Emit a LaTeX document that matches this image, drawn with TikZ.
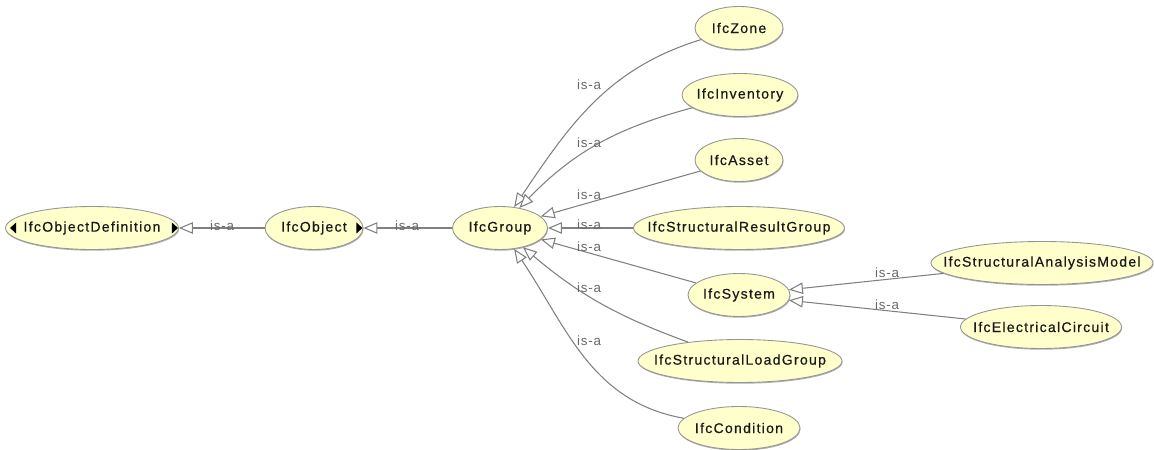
\documentclass[tikz,border=0pt]{standalone}
\usepackage{fontspec}
\usepackage{tikz}
\usetikzlibrary{arrows.meta,shapes.geometric,shadows}
\newfontfamily\entfont[LetterSpace=9,FakeBold=0.5]{Liberation Sans}
\newfontfamily\isafont[LetterSpace=6]{Liberation Sans}
\definecolor{entfill}{RGB}{255,255,204}
\definecolor{entline}{RGB}{150,150,150}
\definecolor{entshadow}{RGB}{175,175,175}
\definecolor{edgegray}{RGB}{128,128,128}
\definecolor{labelgray}{RGB}{105,105,105}
\definecolor{entext}{RGB}{25,25,25}
\tikzset{
  entity/.style={
    ellipse,
    draw=entline,
    fill=entfill,
    line width=0.5pt,
    inner sep=0pt,
    minimum height=0.86cm,
    minimum width=#1*0.02cm,
    text=entext,
    font=\entfont\fontsize{8}{9.6}\selectfont,
    execute at begin node={\hbox to 0pt\bgroup\hss},
    execute at end node={\hss\egroup},
    drop shadow={shadow xshift=0.3pt,shadow yshift=-0.7pt,fill=entshadow,opacity=1}
  },
  isa/.style={
    draw=edgegray,
    line width=0.6pt,
    -{Triangle[length=0.28cm,width=0.23cm,fill=white,line width=0.6pt]}
  },
  isalabel/.style={text=labelgray,inner sep=0pt,font=\isafont\fontsize{7.6}{8}\selectfont},
  expander/.style={fill=black}
}

\begin{document}
\begin{tikzpicture}[x=0.02cm,y=0.02cm]
  \useasboundingbox[fill=white] (0,0) rectangle (1154,450);

  % Entities
  \node[entity=173] (objdef) at (92,222) {IfcObjectDefinition};
  \node[entity=98]  (obj)    at (314,222) {IfcObject};
  \node[entity=95]  (grp)    at (500,222) {IfcGroup};

  \node[entity=88]  (zone)  at (739,422) {IfcZone};
  \node[entity=116] (inv)   at (740,355) {IfcInventory};
  \node[entity=88]  (asset) at (739,290) {IfcAsset};
  \node[entity=211] (srg)   at (739,222) {IfcStructuralResultGroup};
  \node[entity=102] (sys)   at (739,155) {IfcSystem};
  \node[entity=204] (slg)   at (740,89)  {IfcStructuralLoadGroup};
  \node[entity=122] (cond)  at (739,22)  {IfcCondition};

  \node[entity=222] (sam)  at (1042,187) {IfcStructuralAnalysisModel};
  \node[entity=161] (elec) at (1041,123) {IfcElectricalCircuit};

  % Expand markers
  \fill[expander] (objdef.west) ++(5,0) -- ++(6,5.5) -- ++(0,-11) -- cycle;
  \fill[expander] (objdef.east) ++(-1,0) -- ++(-6,5.5) -- ++(0,-11) -- cycle;
  \fill[expander] (obj.east) ++(-1,0) -- ++(-6,5.5) -- ++(0,-11) -- cycle;

  % is-a links
  \draw[isa] (obj) -- (objdef);
  \draw[isa] (grp) -- (obj);

  \draw[isa] (zone) to[out=197,in=56] (grp);
  \draw[isa] (inv) to[out=195,in=46] (grp);
  \draw[isa] (asset) -- (grp);
  \draw[isa] (srg) -- (grp);
  \draw[isa] (sys) -- (grp);
  \draw[isa] (slg) to[out=160,in=-40] (grp);
  \draw[isa] (cond) to[out=170,in=-56] (grp);

  \draw[isa] (sam) -- (sys);
  \draw[isa] (elec) -- (sys);

  % Link labels
  \node[isalabel] (lobjdef) at (222,224) {is-a};
  \node[isalabel] (lobj)    at (407,224) {is-a};
  \node[isalabel] (lzone)   at (589,365) {is-a};
  \node[isalabel] (linv)    at (589,307) {is-a};
  \node[isalabel] (lasset)  at (589,255) {is-a};
  \node[isalabel] (lsrg)    at (589,225) {is-a};
  \node[isalabel] (lsys)    at (589,203) {is-a};
  \node[isalabel] (lslg)    at (589,162) {is-a};
  \node[isalabel] (lcond)   at (589,109) {is-a};
  \node[isalabel] (lsam)    at (887,177) {is-a};
  \node[isalabel] (lelec)   at (887,145) {is-a};
\end{tikzpicture}
\end{document}
